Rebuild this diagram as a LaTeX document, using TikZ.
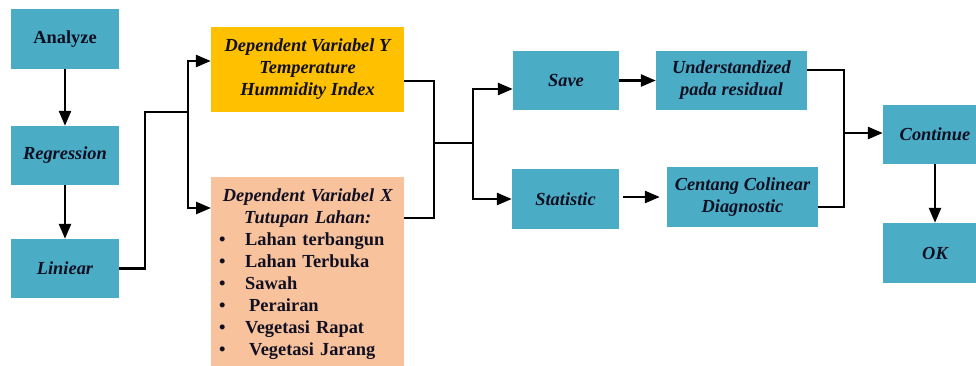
\documentclass[tikz,border=0pt]{standalone}
\usepackage{fontspec}
\setmainfont{Liberation Serif}
\usetikzlibrary{arrows.meta}

\definecolor{boxteal}{HTML}{4BACC6}
\definecolor{boxgold}{HTML}{FFC000}
\definecolor{boxpeach}{HTML}{F8C29C}
\definecolor{ink}{HTML}{101022}

% one bullet line of the land-cover list: bullet column, then the label
\newcommand{\coveritem}[2][0pt]{%
  \makebox[\linewidth][l]{\upshape\hspace{8pt}\makebox[26pt][l]{\textbullet}\hspace{#1}#2}}

\begin{document}
\begin{tikzpicture}[x=1pt,y=-1pt,
  box/.style={fill=boxteal, draw=none, inner sep=0pt, align=center, text=ink,
    font=\fontsize{18.4}{22}\selectfont\bfseries\itshape},
  uprightbox/.style={box, font=\fontsize{18.4}{22}\selectfont\bfseries},
  link/.style={line width=2.6pt, draw=black},
  flow/.style={link, -{Triangle[length=15pt,width=12pt]}}]

\useasboundingbox (0,0) rectangle (976,365);
\clip (0,0) rectangle (976,365);

% left column
\node[uprightbox, minimum width=108pt, minimum height=60pt] (analyze) at (65,39) {Analyze};
\node[box, minimum width=108pt, minimum height=59pt] (regression) at (65,155.5) {Regression};
\node[box, minimum width=108pt, minimum height=59pt] (liniear) at (65,268.5) {Liniear};

% dependent variables
\node[box, fill=boxgold, minimum width=193pt, minimum height=85pt] (depy) at (307.5,69.5)
  {Dependent Variabel Y\\ Temperature\\ Hummidity Index};
\node[box, fill=boxpeach, minimum width=193pt, minimum height=194pt, text width=193pt,
  anchor=north west] (depx) at (211,177)
  {Dependent Variabel X\\ Tutupan Lahan:\\
   \coveritem{Lahan terbangun}\\
   \coveritem{Lahan Terbuka}\\
   \coveritem{Sawah}\\
   \coveritem[4pt]{Perairan}\\
   \coveritem{Vegetasi Rapat}\\
   \coveritem[4pt]{Vegetasi Jarang}};

% SPSS options
\node[box, minimum width=106pt, minimum height=59pt] (save) at (566,80.5) {Save};
\node[box, minimum width=107pt, minimum height=60pt] (statistic) at (565.5,199) {Statistic};
\node[box, minimum width=151pt, minimum height=59pt] (und) at (731.5,80.5)
  {Understandized\\ pada residual};
\node[box, minimum width=151pt, minimum height=60pt] (centang) at (742.5,197)
  {Centang Colinear\\ Diagnostic};

% right column
\node[box, minimum width=104pt, minimum height=59pt] (continue) at (935,134.5) {Continue};
\node[box, minimum width=104pt, minimum height=60pt] (ok) at (935,253) {OK};

% connectors
\draw[flow] (analyze.south) -- (regression.north);
\draw[flow] (regression.south) -- (liniear.north);

\coordinate (k1) at (145,112);
\coordinate (j1) at (188,112);
\draw[link] (liniear.east) -| (k1) -- (j1);
\draw[flow] (j1) |- ([yshift=8.5pt]depy.west);
\draw[flow] (j1) |- ([yshift=-31pt]depx.north west);

\coordinate (j2) at (434,143);
\coordinate (j3) at (473,143);
\draw[link] ([yshift=-11.5pt]depy.east) -| (j2);
\draw[link] ([yshift=-41pt]depx.north east) -| (j2) -- (j3);
\draw[flow] (j3) |- ([yshift=-8.5pt]save.west);
\draw[flow] (j3) |- (statistic.west);

\draw[flow] (save.east) -- (und.west);
\draw[flow, shorten <=4pt, shorten >=7pt] (statistic.east |- centang.west) -- (centang.west);

\coordinate (j4) at (844,133);
\draw[link] ([yshift=10.5pt]und.east) -| (j4);
\draw[link] ([yshift=-10pt]centang.east) -| (j4);
\draw[flow] (j4) -- (j4 -| continue.west);
\draw[flow] (continue.south) -- (ok.north);

\end{tikzpicture}
\end{document}
